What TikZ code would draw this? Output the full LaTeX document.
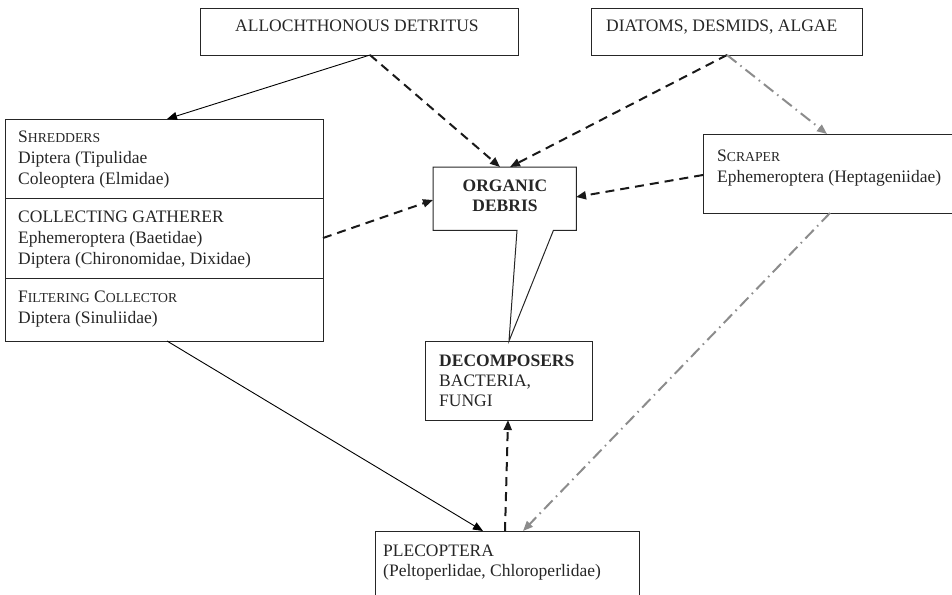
\documentclass[tikz,border=0pt]{standalone}
\usepackage{fontspec}
\setmainfont{Liberation Serif}
\usetikzlibrary{arrows.meta,calc}
\newcommand\fsc[2]{#1{\fontsize{13.7}{21}\selectfont #2}}
\begin{document}
\begin{tikzpicture}[x=1pt,y=-1pt,
  box/.style={draw=black!85, line width=1pt, rectangle, inner sep=0pt, anchor=north west},
  lbl/.style={anchor=base west, inner sep=0pt, font=\fontsize{17.5}{21}\selectfont, text=black!85},
  tip/.style={-{Triangle[length=10pt,width=8pt]}},
  solidarr/.style={tip, line width=0.9pt, black},
  dasharr/.style={tip, line width=2pt, black!90, dash pattern=on 9pt off 6pt},
  grayarr/.style={tip, line width=2pt, black!45, dash pattern=on 12pt off 5pt on 1.5pt off 5pt}]
\useasboundingbox (0,0) rectangle (952,594);

% boxes
\node[box, minimum width=318pt, minimum height=47pt] (allo) at (200,8) {};
\node[box, minimum width=271pt, minimum height=47pt] (diat) at (591,8) {};
\node[box, minimum width=318pt, minimum height=222pt] (feed) at (5,119) {};
\node[box, minimum width=262pt, minimum height=79pt] (scr) at (703,134) {};
\node[draw=none, inner sep=0pt, minimum width=143pt, minimum height=63pt, anchor=north west] (org) at (433,167) {};
\node[box, minimum width=167pt, minimum height=79pt] (dec) at (425,341) {};
\node[box, minimum width=264pt, minimum height=80pt] (ple) at (375,531) {};

% organic debris callout
\coordinate (ptr) at (509,341);
\draw[line width=1pt, draw=black!85] (org.north west) -- (org.north east) -- (org.south east)
  -- ($(org.south east)+(-23,0)$) -- (ptr) -- ($(org.south west)+(84,0)$) -- (org.south west) -- cycle;

% dividers in feeding box
\draw[line width=1pt, draw=black!85] (feed.west |- 0,198) -- (feed.east |- 0,198);
\draw[line width=1pt, draw=black!85] (feed.west |- 0,278) -- (feed.east |- 0,278);

% connector endpoints
\coordinate (a1) at (370,55);
\coordinate (d1) at (727,55);
\coordinate (f1) at (167,119);
\coordinate (o1) at (500,167);
\coordinate (o2) at (510,167);
\coordinate (o3) at (433,200);
\coordinate (o4) at (576,197);
\coordinate (s1) at (827,134);
\coordinate (s2) at (703,175);
\coordinate (s3) at (830,213);
\coordinate (f2) at (323,238);
\coordinate (f3) at (167,341);
\coordinate (p1) at (483,531);
\coordinate (p2) at (505,531);
\coordinate (p3) at (523,531);
\coordinate (e1) at (508,420);

\draw[solidarr] (a1) -- (f1);
\draw[dasharr] (a1) -- (o1);
\draw[dasharr] (d1) -- (o2);
\draw[grayarr] (d1) -- (s1);
\draw[dasharr] (f2) -- (o3);
\draw[dasharr] (s2) -- (o4);
\draw[solidarr] (f3) -- (p1);
\draw[dasharr] (p2) -- (e1);
\draw[grayarr] (s3) -- (p3);

% texts
\node[lbl] (tallo) at (235,31.5) {ALLOCHTHONOUS DETRITUS};
\node[lbl] (tdiat) at (606,31.5) {DIATOMS, DESMIDS, ALGAE};

\node[lbl] (t1) at (18,142) {\fsc{S}{HREDDERS}};
\node[lbl] (t2) at (18,163) {Diptera (Tipulidae};
\node[lbl] (t3) at (18,184) {Coleoptera (Elmidae)};
\node[lbl] (t4) at (18,222) {COLLECTING GATHERER};
\node[lbl] (t5) at (18,243) {Ephemeroptera (Baetidae)};
\node[lbl] (t6) at (18,264) {Diptera (Chironomidae, Dixidae)};
\node[lbl] (t7) at (18,302) {\fsc{F}{ILTERING} \fsc{C}{OLLECTOR}};
\node[lbl] (t8) at (18,323) {Diptera (Sinuliidae)};

\node[lbl] (t9) at (717,161) {\fsc{S}{CRAPER}};
\node[lbl] (t10) at (717,182) {Ephemeroptera (Heptageniidae)};

\node[lbl, anchor=base] (t11) at (505,191) {\bfseries ORGANIC};
\node[lbl, anchor=base] (t12) at (505,211) {\bfseries DEBRIS};

\node[lbl] (t13) at (439,366) {\bfseries DECOMPOSERS};
\node[lbl] (t14) at (439,386) {BACTERIA,};
\node[lbl] (t15) at (439,406) {FUNGI};

\node[lbl] (t16) at (383,556) {PLECOPTERA};
\node[lbl] (t17) at (383,576) {(Peltoperlidae, Chloroperlidae)};
\end{tikzpicture}
\end{document}
